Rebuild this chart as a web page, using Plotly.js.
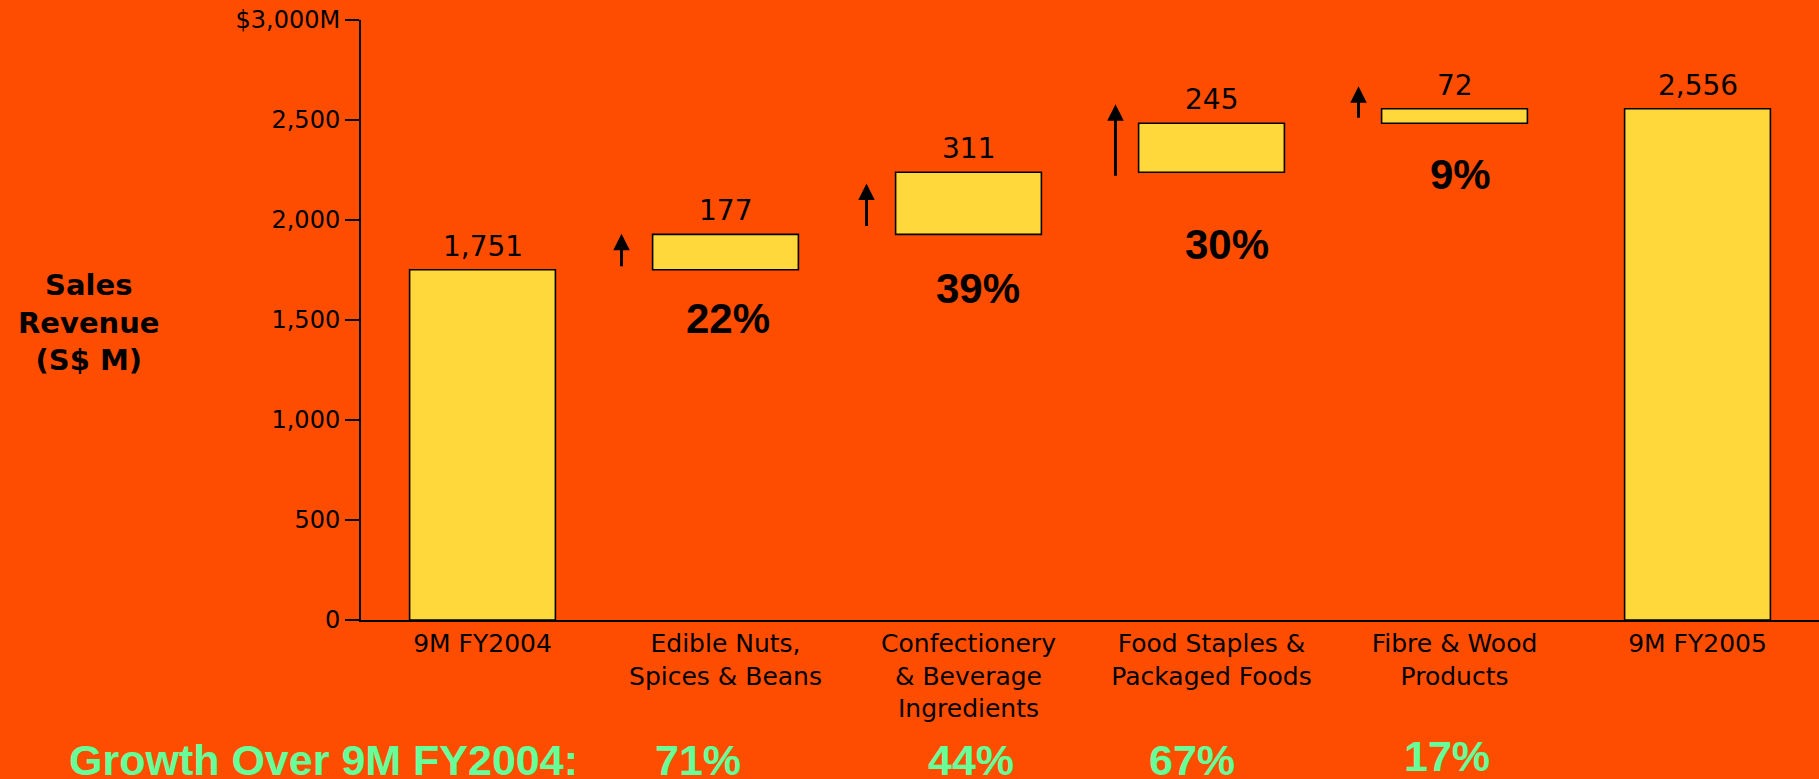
<!DOCTYPE html>
<html>
<head>
<meta charset="utf-8">
<script src="https://cdn.plot.ly/plotly-3.0.1.min.js"></script>
<style>
  html, body { margin: 0; padding: 0; background: #FF4D00; }
  #chart { width: 1819px; height: 779px; }
</style>
</head>
<body>
<div id="chart"></div>
<script>
// ---- data ----
const categories = [
  '9M FY2004',
  'Edible Nuts,<br>Spices & Beans',
  'Confectionery<br>& Beverage<br>Ingredients',
  'Food Staples &<br>Packaged Foods',
  'Fibre & Wood<br>Products',
  '9M FY2005'
];
const startValue = 1751;
const segmentIncrements = [177, 311, 245, 72];
const endValue = 2556;
const segmentShare = ['22%', '39%', '30%', '9%'];
const growthOverFY2004 = ['71%', '44%', '67%', '17%'];
const growthLabel = 'Growth Over 9M FY2004:';
const yTickVals = [0, 500, 1000, 1500, 2000, 2500, 3000];
const yTickText = ['0', '500', '1,000', '1,500', '2,000', '2,500', '$3,000M'];
const yAxisTitle = 'Sales<br>Revenue<br>(S$ M)';

// ---- styles ----
const BG = '#FF4D00';
const BAR = '#FFD83B';
const GREEN = '#66FF99';
const verdana = 'DejaVu Sans, Verdana, sans-serif';
const arial = 'Liberation Sans, Arial, sans-serif';
const arrowXShift = [-104, -102, -96, -96];
const arrowHeadShift = [36, 51, 68, 37];
const arrowLength = [34, 44, 73, 33];
const shareXShift = [2, 9, 15, 6];
const shareYShift = [-49, -54, -72, -51];
const growthXShift = [-28, 2, -20, -8];
const growthYPx = [759, 759, 759, 755];

// ---- build waterfall ----
const heights = [startValue].concat(segmentIncrements, [endValue]);
const bases = [0];
let run = startValue;
segmentIncrements.forEach(v => { bases.push(run); run += v; });
bases.push(0);
const xs = categories.map((_, i) => i);

const trace = {
  type: 'bar',
  x: xs,
  y: heights,
  base: bases,
  width: 0.6,
  marker: { color: BAR, line: { color: '#000', width: 1.6 } },
  hoverinfo: 'skip',
  showlegend: false
};

const annotations = [];
// value labels
heights.forEach((h, i) => {
  annotations.push({
    x: i, y: bases[i] + h, xref: 'x', yref: 'y',
    text: h.toLocaleString('en-US'),
    showarrow: false, yanchor: 'bottom', yshift: 5,
    font: { family: verdana, size: 28, color: '#000' }
  });
});
// arrows and segment shares
segmentIncrements.forEach((v, k) => {
  const i = k + 1;
  annotations.push({
    x: i, y: bases[i], xref: 'x', yref: 'y',
    xshift: arrowXShift[k], yshift: arrowHeadShift[k],
    text: '', showarrow: true, ax: 0, ay: arrowLength[k],
    arrowhead: 2, arrowsize: 1.1, arrowwidth: 3, arrowcolor: '#000', standoff: 0
  });
  annotations.push({
    x: i, y: bases[i], xref: 'x', yref: 'y',
    xshift: shareXShift[k], yshift: shareYShift[k],
    text: segmentShare[k], showarrow: false, yanchor: 'middle',
    font: { family: arial, size: 42, color: '#000', weight: 'bold' }
  });
  annotations.push({
    x: i, y: 0, xref: 'x', yref: 'paper',
    xshift: growthXShift[k], yshift: 619.5 - growthYPx[k],
    text: growthOverFY2004[k], showarrow: false, yanchor: 'middle',
    font: { family: arial, size: 43, color: GREEN, weight: 'bold' }
  });
});
// growth label
annotations.push({
  x: 0, y: 0, xref: 'paper', yref: 'paper',
  xshift: -294, yshift: 619.5 - 759,
  text: growthLabel, showarrow: false, xanchor: 'left', yanchor: 'middle',
  font: { family: arial, size: 43, color: GREEN, weight: 'bold' }
});
// y axis title
annotations.push({
  x: 0, y: 0.5, xref: 'paper', yref: 'paper',
  xshift: -272, yshift: -2, text: yAxisTitle, showarrow: false,
  xanchor: 'center', yanchor: 'middle', align: 'center',
  font: { family: verdana, size: 29, color: '#000', weight: 'bold' }
});

const layout = {
  width: 1819, height: 779,
  margin: { l: 361, r: 0, t: 20, b: 159, pad: 0 },
  paper_bgcolor: BG, plot_bgcolor: BG,
  showlegend: false,
  xaxis: {
    range: [-0.5, 5.5], tickvals: xs, ticktext: categories,
    showgrid: false, zeroline: false, showline: true, linecolor: '#000', linewidth: 2,
    ticks: '', tickfont: { family: verdana, size: 25, color: '#000' }, fixedrange: true
  },
  yaxis: {
    range: [0, 3000], tickvals: yTickVals, ticktext: yTickText,
    showgrid: false, zeroline: false, showline: true, linecolor: '#000', linewidth: 2,
    ticks: 'outside', ticklen: 14, tickwidth: 2, tickcolor: '#000',
    tickfont: { family: verdana, size: 24, color: '#000' }, fixedrange: true
  },
  annotations: annotations
};

Plotly.newPlot('chart', [trace], layout, { displayModeBar: false, staticPlot: true });
</script>
</body>
</html>
